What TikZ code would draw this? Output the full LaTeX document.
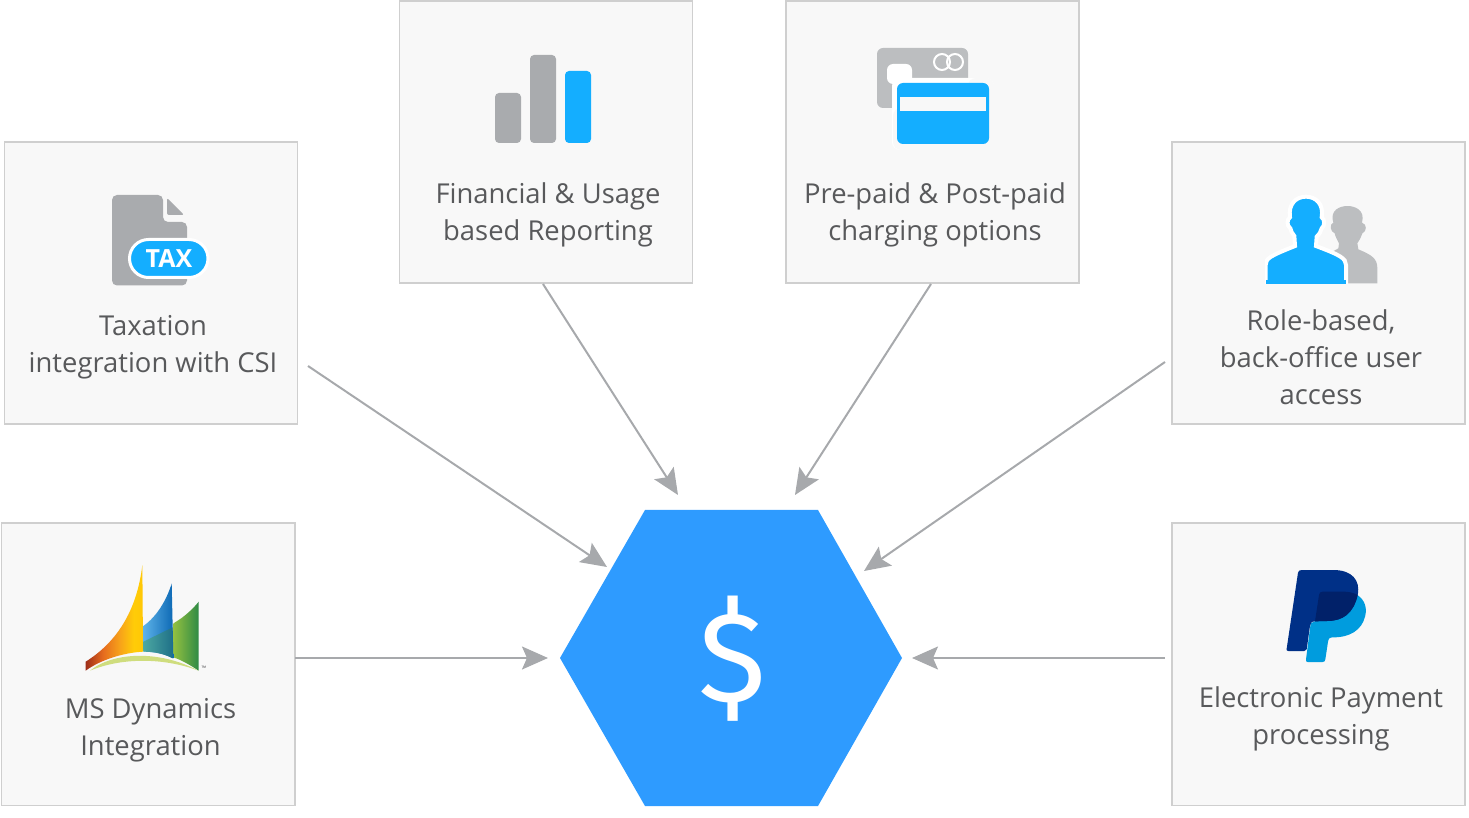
\documentclass[tikz,border=0pt]{standalone}
\usepackage{fontspec}
\setmainfont{Open Sans}
\newfontfamily\dollarfont{Fira Sans}
\usetikzlibrary{arrows.meta}
\definecolor{boxfill}{HTML}{F8F8F8}
\definecolor{boxline}{HTML}{CFCFCF}
\definecolor{arrowgray}{HTML}{A7A9AC}
\definecolor{hexblue}{HTML}{2E9BFF}
\definecolor{iconblue}{HTML}{14AEFF}
\definecolor{icongray}{HTML}{A9ABAE}
\definecolor{lightgray}{HTML}{BCBEC0}
\definecolor{labelgray}{HTML}{58595B}
\definecolor{ppdark}{HTML}{003087}
\definecolor{pplight}{HTML}{009CDE}
\definecolor{ppmid}{HTML}{012169}
\definecolor{bluea}{HTML}{5DB2E8}
\definecolor{blueb}{HTML}{0C68B4}
\definecolor{greena}{HTML}{93C040}
\definecolor{greenb}{HTML}{2E8A45}
\definecolor{teala}{HTML}{4CA8A2}
\definecolor{tealb}{HTML}{1F7088}
\definecolor{bandc}{HTML}{CFDD7E}
\pgfdeclarehorizontalshading{sailshade}{100bp}{
  rgb(0bp)=(0.62,0.18,0.10);
  rgb(25bp)=(0.62,0.18,0.10);
  rgb(40bp)=(0.90,0.42,0.12);
  rgb(55bp)=(0.97,0.64,0.10);
  rgb(67bp)=(1.0,0.80,0.03);
  rgb(75bp)=(1.0,0.78,0.02);
  rgb(100bp)=(1.0,0.78,0.02)}
\tikzset{
  card/.style={draw=boxline,fill=boxfill,line width=0.75pt,rectangle,inner sep=0pt,minimum width=146.5pt,minimum height=141pt,anchor=north west},
  label/.style={text=labelgray,font=\fontsize{13.7}{18.5}\selectfont,align=center,anchor=base,inner sep=0pt},
  flow/.style={draw=arrowgray,line width=1pt,-{Stealth[length=13pt,width=11.5pt,inset=2.5pt]}}
}
\begin{document}
\begin{tikzpicture}[x=0.5pt,y=-0.5pt]
\useasboundingbox (0,0) rectangle (1469,818);
% boxes
\node[card] (tax) at (3.5,141.5) {};
\node[card] (fin) at (398.5,0.5) {};
\node[card] (pre) at (785,0.5) {};
\node[card] (role) at (1171,141.5) {};
\node[card] (ms) at (1,522.5) {};
\node[card] (pay) at (1171,522.5) {};
% hexagon
\fill[hexblue] (560,658) -- (645,510) -- (818,510) -- (902,658) -- (818,806) -- (645,806) -- cycle;
\node[text=white,font=\dollarfont\fontsize{64}{64}\selectfont,inner sep=0pt] (hub) at (732,658.5) {\$};
% connector ends
\coordinate (a1) at (308,366); \coordinate (b1) at (607,567);
\coordinate (a2) at (543,284); \coordinate (b2) at (678,495);
\coordinate (a3) at (931,284); \coordinate (b3) at (795,495);
\coordinate (a4) at (1165,362); \coordinate (b4) at (864,571);
\coordinate (a5) at (295,658); \coordinate (b5) at (548,658);
\coordinate (a6) at (1165,658); \coordinate (b6) at (912,658);
\draw[flow] (a1) -- (b1);
\draw[flow] (a2) -- (b2);
\draw[flow] (a3) -- (b3);
\draw[flow] (a4) -- (b4);
\draw[flow] (a5) -- (b5);
\draw[flow] (a6) -- (b6);
% labels
\node[label] (ltax) at (153,372.5) {Taxation\\integration with CSI};
\node[label] (lfin) at (548,241) {Financial \& Usage\\based Reporting};
\node[label] (lpre) at (935,241) {Pre-paid \& Post-paid\\charging options};
\node[label] (lrole) at (1321,405) {Role-based,\\back-office user\\access};
\node[label] (lms) at (150.5,755) {MS Dynamics\\Integration};
\node[label] (lpay) at (1321,744) {Electronic Payment\\processing};
% bars icon
\fill[icongray,rounded corners=2pt] (495,93) rectangle (521,143);
\fill[icongray,rounded corners=2pt] (530,55) rectangle (556,143);
\fill[iconblue,rounded corners=2pt] (565,71) rectangle (591,143);
% cards icon
\fill[lightgray,rounded corners=3pt] (877,48) rectangle (968,108);
\fill[white,rounded corners=3pt] (887,64) rectangle (912,84);
\draw[white,line width=1pt] (942,62) circle (8);
\draw[white,line width=1pt] (955,62) circle (8);
\fill[white,rounded corners=4pt] (892,78) rectangle (994,150);
\fill[boxfill,rounded corners=4pt] (893,108) rectangle (994,150);
\fill[boxfill,rounded corners=4pt] (968,78) rectangle (994,150);
\fill[iconblue,rounded corners=3pt] (897,83) rectangle (989,144);
\fill[boxfill] (900,97) rectangle (985.5,111);
% tax icon
\fill[icongray,rounded corners=2.5pt] (112,195) -- (163,195) -- (163,222) -- (187,222) -- (187,285.5) -- (112,285.5) -- cycle;
\fill[icongray,rounded corners=1pt] (167,198) -- (184,215) -- (167,215) -- cycle;
\fill[iconblue,draw=white,line width=1.5pt,rounded corners=9.5pt] (129.5,239.5) rectangle (208,277.5);
\node[text=white,font=\fontsize{12.5}{13}\bfseries\selectfont,inner sep=0pt] (taxt) at (169,258.5) {TAX};
% people icon (offset 1260,180, scale 1/3)
\begin{scope}[shift={(1260,180)},x=0.1667pt,y=-0.1667pt]
\fill[lightgray] (352,310) -- (352,265) .. controls (352,235) and (335,225) .. (295,208) -- (292,190) .. controls (300,178) and (304,168) .. (307,160) .. controls (320,155) and (322,132) .. (306,128) .. controls (316,90) and (285,78) .. (262,78) .. controls (240,78) and (208,90) .. (220,128) .. controls (208,132) and (210,155) .. (224,160) .. controls (226,170) and (232,180) .. (237,190) -- (235,205) -- (200,225) -- (200,310) -- cycle;
\path[fill=iconblue,draw=white,line width=2pt] (17,311) -- (17,255) .. controls (17,235) and (30,228) .. (105,198) -- (103,168) .. controls (96,160) and (92,152) .. (91,145) .. controls (80,138) and (80,118) .. (90,112) .. controls (84,72) and (108,50) .. (138,50) .. controls (167,50) and (192,72) .. (185,112) .. controls (195,118) and (195,138) .. (185,145) .. controls (183,155) and (178,162) .. (170,170) -- (168,198) .. controls (240,225) and (258,235) .. (258,255) -- (258,311) -- cycle;
\fill[boxfill] (0,312) rectangle (380,330);
\fill[boxfill] (0,200) rectangle (14,330);
\fill[iconblue] (17,300) rectangle (258,311);
\end{scope}
% paypal (offset 1270,560)
\begin{scope}[shift={(1270,560)},x=0.1667pt,y=-0.1667pt]
\fill[pplight] (262,105) .. controls (285,120) and (292,145) .. (285,170) .. controls (275,210) and (240,232) .. (190,232) .. controls (178,232) and (176,235) .. (174,245) -- (166,298) .. controls (165,303) and (163,306) .. (158,306) -- (113,306) .. controls (108,306) and (107,303) .. (108,298) -- (122,190) -- (200,150) -- cycle;
\fill[ppdark] (95,30) -- (190,30) .. controls (245,30) and (272,60) .. (263,105) .. controls (250,160) and (220,183) .. (170,183) -- (135,184) .. controls (125,184) and (122,188) .. (120,197) -- (110,268) .. controls (109,272) and (107,273) .. (103,273) -- (55,273) .. controls (50,273) and (49,270) .. (50,266) -- (84,38) .. controls (85,33) and (89,30) .. (95,30) -- cycle;
\fill[ppmid] (135,184) -- (147,105) .. controls (148,98) and (151,95) .. (158,95) -- (225,95) .. controls (240,96) and (252,99) .. (263,105) .. controls (250,160) and (220,183) .. (170,183) -- cycle;
\end{scope}
% dynamics logo (offset 60,550)
\begin{scope}[shift={(60,550)},x=0.1667pt,y=-0.1667pt]
\shade[left color=greena,right color=greenb] (340,220) .. controls (375,200) and (400,175) .. (416,155) -- (416,362) .. controls (390,345) and (365,330) .. (340,322) -- cycle;
\shade[left color=bluea,right color=blueb] (250,228) .. controls (290,200) and (320,150) .. (335,100) -- (340,325) .. controls (310,310) and (280,305) .. (250,305) -- cycle;
\shade[left color=teala,right color=tealb] (250,275) -- (338,232) -- (338,325) .. controls (310,310) and (280,305) .. (250,305) -- cycle;
\shade[shading=sailshade] (77,335) .. controls (180,270) and (232,170) .. (247,45) -- (249,305) .. controls (190,308) and (120,330) .. (77,362) -- cycle;
\fill[bandc] (90,362) .. controls (160,305) and (300,300) .. (415,362) .. controls (320,325) and (190,320) .. (90,362) -- cycle;
\end{scope}
\node[text=labelgray,font=\fontsize{3}{3}\selectfont,inner sep=0pt] (tm) at (204,668) {™};
\end{tikzpicture}
\end{document}
